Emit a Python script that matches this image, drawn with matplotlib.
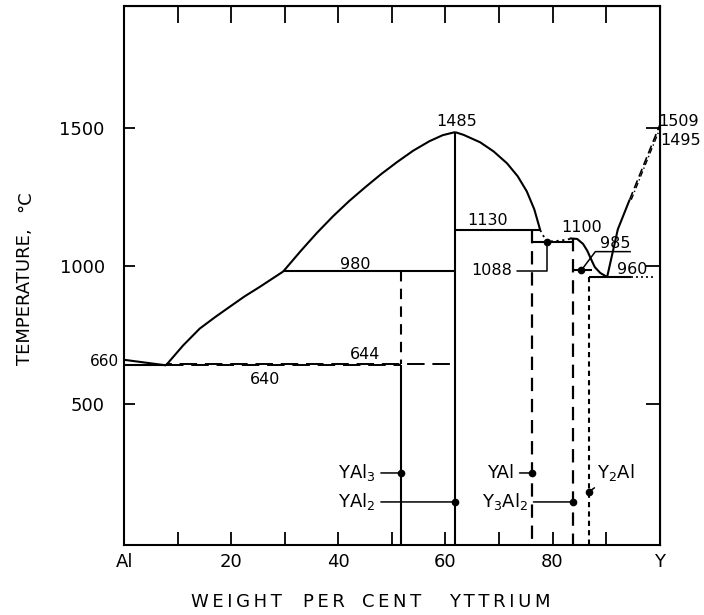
import numpy as np
import matplotlib.pyplot as plt

plt.rcParams['font.family'] = 'DejaVu Sans'

# compositions of the compounds, wt.% Y
x_yal3, x_yal2, x_yal, x_y3al2, x_y2al = 51.7, 61.8, 76.2, 83.9, 86.8

# invariant points
x_eut1, t_eut1 = 7.8, 640
t_644 = 644
x_p980, t_p980 = 29.7, 980
t_yal2 = 1485
x_p1130, t_p1130 = 77.7, 1130
x_eut2, t_eut2 = 78.9, 1088
t_y3al2 = 1100
x_p985, t_p985 = 85.4, 985
x_eut3, t_eut3 = 90.2, 960
t_al, t_y, t_y_ab = 660, 1509, 1495

# liquidus branches
liq1_x = [0, x_eut1]
liq1_t = [t_al, t_eut1]
liq2_x = [x_eut1, 11.0, 14.1, 17.0, 19.7, 22.5, 25.3, 27.5, x_p980]
liq2_t = [t_eut1, 712, 773, 815, 852, 890, 924, 952, t_p980]
liq3_x = [x_p980, 33.0, 36.0, 39.0, 42.0, 45.0, 48.0, 51.0, 54.0, 57.0, 59.5, x_yal2]
liq3_t = [t_p980, 1055, 1120, 1180, 1235, 1285, 1333, 1377, 1418, 1452, 1474, t_yal2]
liq4_x = [x_yal2, 63.4, 66.5, 69.0, 71.5, 73.5, 75.2, 76.6, x_p1130]
liq4_t = [t_yal2, 1475, 1448, 1415, 1372, 1325, 1270, 1205, t_p1130]
liq5_x = [x_p1130, x_eut2, 81.5, x_y3al2]
liq5_t = [t_p1130, t_eut2, 1092, t_y3al2]
liq6_x = [83.2, 84.6, 85.7, 86.5, 87.0, 87.5, 87.9, 88.9, x_eut3]
liq6_t = [t_y3al2, 1098, 1080, 1055, 1033, 1012, 996, 975, t_eut3]
liq7_x = [x_eut3, 92.2, 94.4]
liq7_t = [t_eut3, 1133, 1240]

fig = plt.figure(figsize=(7.04, 6.15), dpi=100)
ax = fig.add_axes([124.2 / 704, 70 / 615, 535.4 / 704, 539 / 615])
ax.set_xlim(0, 100)
ax.set_ylim(-11, 1942)

k = dict(color='black', lw=1.5, solid_capstyle='butt')

# liquidus
ax.plot(liq1_x, liq1_t, **k)
ax.plot(liq2_x, liq2_t, **k)
ax.plot(liq3_x, liq3_t, **k)
ax.plot(liq4_x, liq4_t, **k)
ax.plot(liq5_x, liq5_t, color='black', lw=1.3, ls=(0, (1.2, 2.0)))
ax.plot(liq6_x, liq6_t, **k)
ax.plot(liq7_x, liq7_t, **k)
ax.plot([liq7_x[-1], 100], [liq7_t[-1], t_y], color='black', lw=1.2, ls=(0, (5, 2.5)))
ax.plot([liq7_x[-1] + 0.3, 100], [liq7_t[-1], t_y_ab], color='black', lw=1.0, ls=(0, (4, 2, 1, 2)))

# horizontals
ax.plot([0, x_eut1], [t_eut1, t_eut1], **k)
ax.plot([x_eut1, x_yal3], [t_eut1, t_eut1], color='black', lw=1.4, ls=(0, (9, 4)))
ax.plot([x_eut1, x_yal2], [t_644, t_644], color='black', lw=1.4, ls=(6, (9, 4)))
ax.plot([x_p980, x_yal2], [t_p980, t_p980], **k)
ax.plot([x_yal2, x_p1130], [t_p1130, t_p1130], **k)
ax.plot([x_yal, x_y3al2], [t_eut2, t_eut2], **k)
ax.plot([x_y3al2, 87.3], [t_p985, t_p985], **k)
ax.plot([x_y2al, 94.6], [t_eut3, t_eut3], **k)
ax.plot([94.6, 99.0], [t_eut3, t_eut3], color='black', lw=1.2, ls=(0, (1.2, 1.8)))

# compound verticals
ax.plot([x_yal3, x_yal3], [t_p980, t_644], color='black', lw=1.5, ls=(0, (5, 3.5)))
ax.plot([x_yal3, x_yal3], [t_eut1, -11], **k)
ax.plot([x_yal2, x_yal2], [t_yal2, -11], **k)
ax.plot([x_yal, x_yal], [t_p1130, -11], color='black', lw=1.6, ls=(0, (6, 3.5)))
ax.plot([x_y3al2, x_y3al2], [t_y3al2, -11], color='black', lw=1.6, ls=(0, (6, 3.5)))
ax.plot([x_y2al, x_y2al], [t_eut3, -11], color='black', lw=1.5, ls=(0, (2.5, 2)))

# invariant points
ax.plot([x_eut2, x_p985], [t_eut2, t_p985], 'o', color='black', ms=4.5)

fs = 11.5
ax.text(-1.0, 655, '660', ha='right', va='center', fontsize=11, clip_on=False)
ax.text(26.3, 587, '640', ha='center', va='center', fontsize=fs)
ax.text(45.0, 680, '644', ha='center', va='center', fontsize=fs)
ax.text(43.1, 1004, '980', ha='center', va='center', fontsize=fs)
ax.text(62.0, 1522, '1485', ha='center', va='center', fontsize=fs)
ax.text(67.9, 1163, '1130', ha='center', va='center', fontsize=fs)
ax.text(85.5, 1138, '1100', ha='center', va='center', fontsize=fs)
ax.text(99.7, 1522, '1509', ha='left', va='center', fontsize=fs, clip_on=False)
ax.text(100.1, 1453, '1495', ha='left', va='center', fontsize=fs, clip_on=False)
ax.text(94.9, 989, '960', ha='center', va='center', fontsize=fs)
ax.text(91.7, 1083, '985', ha='center', va='center', fontsize=fs)

lead = dict(arrowstyle='-', color='black', lw=1.1, shrinkA=2, shrinkB=0)
ax.annotate('1088', xy=(x_eut2, t_eut2), xytext=(72.4, 982), ha='right', va='center',
            fontsize=fs, arrowprops=dict(lead, connectionstyle='angle,angleA=0,angleB=90,rad=0'))
# leader under the 985 label
ax.plot([x_p985, 88.0, 94.5], [t_p985, 1052, 1052], color='black', lw=1.1)

# compounds
comp = dict(fontsize=13, va='center')
ax.plot([x_yal3, x_yal2, x_yal, x_y3al2, x_y2al], [250, 145, 250, 145, 182], 'o', color='black', ms=4.5)
ax.annotate('YAl$_3$', xy=(x_yal3, 250), xytext=(46.9, 250), ha='right', arrowprops=lead, **comp)
ax.annotate('YAl$_2$', xy=(x_yal2, 145), xytext=(46.9, 145), ha='right', arrowprops=lead, **comp)
ax.annotate('YAl', xy=(x_yal, 250), xytext=(72.8, 250), ha='right', arrowprops=lead, **comp)
ax.annotate('Y$_3$Al$_2$', xy=(x_y3al2, 145), xytext=(75.4, 145), ha='right', arrowprops=lead, **comp)
ax.annotate('Y$_2$Al', xy=(x_y2al, 182), xytext=(88.3, 250), ha='left', arrowprops=lead, **comp)

# axes
for s in ax.spines.values():
    s.set_linewidth(1.5)
ax.set_xticks(np.arange(0, 101, 10))
ax.set_xticklabels(['Al', '', '20', '', '40', '', '60', '', '80', '', 'Y'], fontsize=13)
ax.set_yticks([500, 1000, 1500])
ax.set_yticklabels(['500', '1000', '1500'], fontsize=13)
ax.tick_params(axis='x', direction='in', length=9.5, width=1.3, pad=6)
ax.tick_params(axis='y', direction='in', length=8, width=1.3, pad=14)

top = ax.secondary_xaxis('top')
top.set_xticks(np.arange(10, 100, 10))
top.set_xticklabels([])
top.tick_params(direction='in', length=12, width=1.3)
right = ax.secondary_yaxis('right')
right.set_yticks([500, 1000, 1500])
right.set_yticklabels([])
right.tick_params(direction='in', length=10, width=1.3)

for word, xc in [('WEIGHT', 236), ('PER', 324), ('CENT', 391.5), ('YTTRIUM', 499.5)]:
    fig.text(xc / 704, 1 - 602 / 615, '\u2009'.join(word), ha='center', va='center', fontsize=13)
fig.text(25 / 704, 1 - 297 / 615, 'TEMPERATURE,', rotation=90, ha='center', va='center', fontsize=13)
fig.text(25 / 704, 1 - 201 / 615, '°C', rotation=90, ha='center', va='center', fontsize=13)

fig.savefig('out.png', dpi=100)
